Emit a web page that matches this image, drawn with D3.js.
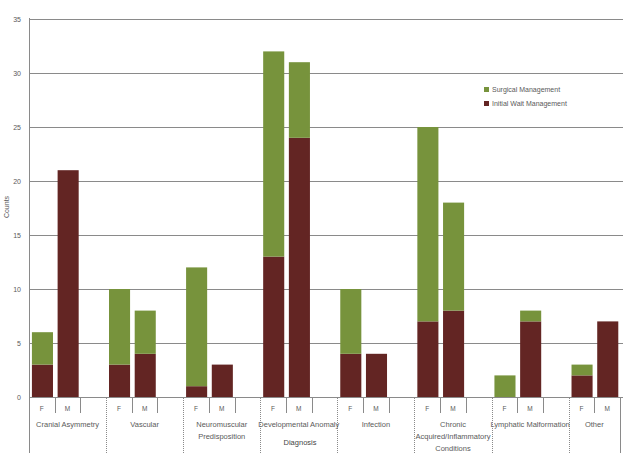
<!DOCTYPE html>
<html><head><meta charset="utf-8">
<script src="https://cdn.jsdelivr.net/npm/d3@7/dist/d3.min.js"></script>
<style>body{margin:0;background:#fff}svg{display:block;font-family:"Liberation Sans",Arial,sans-serif}</style>
</head><body><svg id="c" width="623" height="453"></svg>
<script>
const groups = [["Cranial Asymmetry"],["Vascular"],["Neuromuscular","Predisposition"],["Developmental Anomaly"],["Infection"],["Chronic","Acquired/Inflammatory","Conditions"],["Lymphatic Malformation"],["Other"]];
const sexes = ["F","M"];
const initialMgmt = [3,21, 3,4, 1,3, 13,24, 4,4, 7,8, 0,7, 2,7];
const surgicalMgmt = [3,0, 7,4, 11,0, 19,7, 6,0, 18,10, 2,1, 1,0];
const yTicks = [0,5,10,15,20,25,30,35];
const seriesNames = ["Surgical Management","Initial Wait Management"];
const colors = {surg:"#77933C", init:"#632523"};

// slots: F, M, blank per group (no blank after last)
const slots = [];
groups.forEach((g,gi)=>{
  sexes.forEach((s,si)=>slots.push({id:gi+"-"+s, g:gi, s, i:gi*2+si}));
  if(gi<groups.length-1) slots.push({id:gi+"-blank", g:gi, s:null});
});

const svg = d3.select("#c");
const x = d3.scaleBand().domain(slots.map(d=>d.id)).range([29,620]).padding(0);
const y = d3.scaleLinear().domain([0,35]).range([397,19]);
const grey = "#8a8a8a";
const txt = "#5a5a5a";

// gridlines
svg.append("g").selectAll("line").data(yTicks).join("line")
  .attr("x1",29).attr("x2",623).attr("y1",d=>Math.round(y(d))+0.5).attr("y2",d=>Math.round(y(d))+0.5)
  .attr("stroke",grey).attr("stroke-width",1);

// y tick labels
svg.append("g").selectAll("text").data(yTicks).join("text")
  .attr("x",21).attr("y",d=>y(d)+2.5).attr("text-anchor","end")
  .attr("font-size",7).attr("fill",txt).text(d=>d);
svg.append("text").attr("transform","translate(9,207) rotate(-90)")
  .attr("text-anchor","middle").attr("font-size",7).attr("fill",txt).text("Counts");

// bars
const bw = x.bandwidth()*0.82;
const data = slots.filter(d=>d.s).map(d=>({...d, init:initialMgmt[d.i], surg:surgicalMgmt[d.i]}));
const bx = d=>x(d.id)+(x.bandwidth()-bw)/2+0.6;
svg.append("g").selectAll("rect.i").data(data).join("rect")
  .attr("x",bx).attr("width",bw).attr("y",d=>y(d.init)).attr("height",d=>y(0)-y(d.init))
  .attr("fill",colors.init);
svg.append("g").selectAll("rect.s").data(data).join("rect")
  .attr("x",bx).attr("width",bw).attr("y",d=>y(d.init+d.surg)).attr("height",d=>y(d.init)-y(d.init+d.surg))
  .attr("fill",colors.surg);

// axes lines
svg.append("line").attr("x1",29.5).attr("x2",29.5).attr("y1",18).attr("y2",453).attr("stroke",grey);
svg.append("line").attr("x1",29).attr("x2",620).attr("y1",397.5).attr("y2",397.5).attr("stroke",grey);

// category separators
const bounds = slots.map(d=>x(d.id)).concat([x.range()[1]]);
svg.append("g").selectAll("line").data(bounds.slice(1)).join("line")
  .attr("x1",d=>Math.round(d)+0.5).attr("x2",d=>Math.round(d)+0.5)
  .attr("y1",398).attr("y2",(d,i)=>{
    const isGroupEnd = (i+1)%3===0 || i===bounds.length-2;
    return isGroupEnd?453:413;
  })
  .attr("stroke",grey).attr("stroke-dasharray",(d,i)=>((i+1)%3===0)?"1,1":null);

// F/M labels
svg.append("g").selectAll("text").data(data).join("text")
  .attr("x",d=>x(d.id)+x.bandwidth()/2).attr("y",411).attr("text-anchor","middle")
  .attr("font-size",6.5).attr("fill",txt).text(d=>d.s);

// group labels
groups.forEach((g,gi)=>{
  const start = x(gi+"-F");
  const end = gi<groups.length-1 ? x(gi+"-blank")+x.bandwidth() : x.range()[1];
  const cx=(start+end)/2;
  g.forEach((line,li)=>{
    svg.append("text").attr("x",cx).attr("y",427+li*12).attr("text-anchor","middle")
      .attr("font-size",7.5).attr("fill",txt).text(line);
  });
});
svg.append("text").attr("x",300).attr("y",445).attr("text-anchor","middle")
  .attr("font-size",7.5).attr("fill","#444").text("Diagnosis");

// legend
const leg = svg.append("g");
[["surg",0],["init",1]].forEach(([k,i])=>{
  leg.append("rect").attr("x",484).attr("y",87+i*14).attr("width",5).attr("height",5).attr("fill",colors[k]);
  leg.append("text").attr("x",492).attr("y",92+i*14).attr("font-size",7).attr("fill",txt).text(seriesNames[i]);
});
</script></body></html>
